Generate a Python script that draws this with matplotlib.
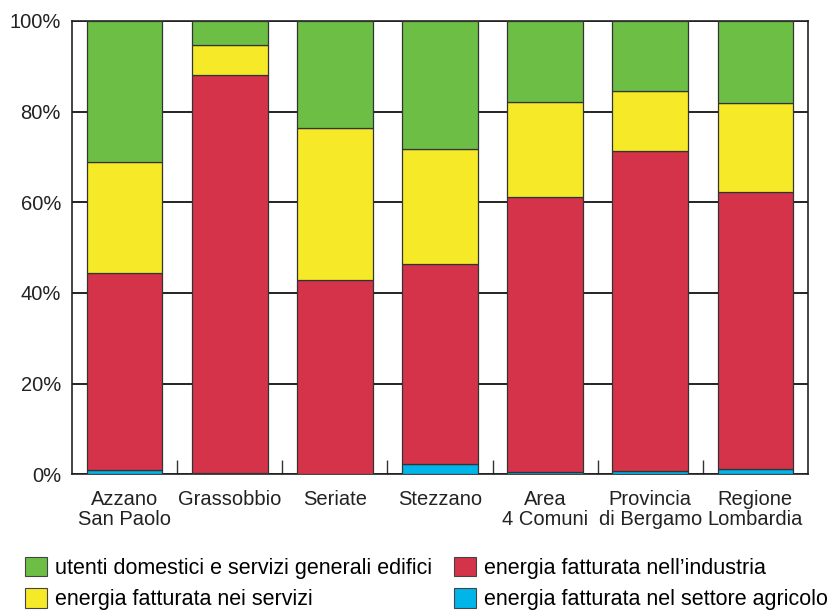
import numpy as np
import matplotlib.pyplot as plt
from matplotlib.patches import Patch

plt.rcParams['font.family'] = ['Liberation Sans', 'DejaVu Sans']

categories = ['Azzano\nSan Paolo', 'Grassobbio', 'Seriate', 'Stezzano',
              'Area\n4 Comuni', 'Provincia\ndi Bergamo', 'Regione\nLombardia']

# shares in percent, stacked bottom -> top
agricolo = [0.95, 0.2, 0.1, 2.2, 0.45, 0.8, 1.2]
industria = [43.35, 87.8, 42.7, 44.1, 60.65, 70.5, 61.1]
servizi = [24.7, 6.6, 33.5, 25.5, 21.1, 13.3, 19.7]
domestici = [31.0, 5.4, 23.7, 28.2, 17.8, 15.4, 18.0]

labels = ['energia fatturata nel settore agricolo',
          'energia fatturata nell\u2019industria',
          'energia fatturata nei servizi',
          'utenti domestici e servizi generali edifici']
colors = ['#00b5e9', '#d53349', '#f6e928', '#6dbe45']

fig = plt.figure(figsize=(8.3, 6.11), dpi=100)
ax = fig.add_axes([72 / 830, 1 - 474.3 / 611, 736 / 830, 453.3 / 611])

x = np.arange(len(categories))
bottom = np.zeros(len(categories))
for vals, col in zip([agricolo, industria, servizi, domestici], colors):
    ax.bar(x, vals, 0.72, bottom=bottom, color=col, edgecolor='#333333',
           linewidth=0.9, zorder=3)
    bottom += np.array(vals)

ax.set_xlim(-0.5, len(categories) - 0.5)
ax.set_ylim(0, 100)
ax.set_yticks([0, 20, 40, 60, 80, 100])
ax.set_yticklabels(['0%', '20%', '40%', '60%', '80%', '100%'])
ax.yaxis.grid(True, color='#111111', linewidth=1.3, zorder=0)
ax.set_axisbelow(True)
ax.tick_params(axis='y', length=0, pad=8, labelsize=14.5, colors='#222222')

ax.set_xticks(x)
ax.set_xticklabels(categories, linespacing=1.12)
ax.set_xticks(x[:-1] + 0.5, minor=True)
ax.tick_params(axis='x', which='major', length=0, pad=11, labelsize=14.5,
               colors='#222222')
ax.tick_params(axis='x', which='minor', direction='in', length=10,
               width=1.0, color='#333333')
for s in ax.spines.values():
    s.set_color('#222222')
    s.set_linewidth(1.2)

def handles(idx):
    return [Patch(facecolor=colors[i], edgecolor='#444444', linewidth=0.8,
                  label=labels[i]) for i in idx]

common = dict(frameon=False, fontsize=15.5, handlelength=1.0,
              handleheight=1.0, handletextpad=0.4, labelspacing=0.44,
              borderaxespad=0, borderpad=0)
fig.legend(handles=handles([3, 2]), loc='upper left',
           bbox_to_anchor=(25 / 830, 1 - 557 / 611), **common)
fig.legend(handles=handles([1, 0]), loc='upper left',
           bbox_to_anchor=(454 / 830, 1 - 557 / 611), **common)

fig.savefig('out.png', dpi=100)
